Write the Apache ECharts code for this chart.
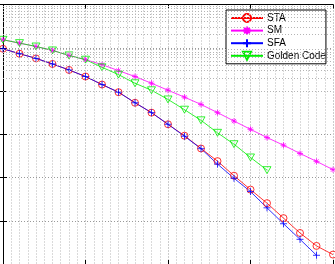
<!DOCTYPE html>
<html>
<head>
<meta charset="utf-8">
<title>BER</title>
<script src="https://cdn.jsdelivr.net/npm/echarts@6.0.0/dist/echarts.min.js"></script>
<style>
    html, body { margin: 0; padding: 0; background: #fff; }
    #berChart { width: 335px; height: 264px; }
</style>
</head>
<body>
<div id="berChart"></div>
<script>
// SNR (dB) - one marker every 2 dB
var snr = [0, 2, 4, 6, 8, 10, 12, 14, 16, 18, 20, 22, 24, 26, 28, 30, 32, 34, 36, 38, 40];

// BER values
var berSTA = [0.0948, 0.0728, 0.0568, 0.0422, 0.0307, 0.0216, 0.0141, 0.00938, 0.00535, 0.00316,
    0.00170, 0.000924, 0.000469, 0.000239, 0.000110, 5.25e-5, 2.55e-5, 1.15e-5, 5.21e-6, 2.62e-6, 1.65e-6];
var berSM = [0.153, 0.128, 0.107, 0.0867, 0.0665, 0.0530, 0.0407, 0.0296, 0.0216, 0.0151,
    0.0104, 0.00720, 0.00489, 0.00316, 0.00202, 0.00130, 0.000839, 0.000558, 0.000360, 0.000236, 0.000152];
var berSFA = [0.0948, 0.0728, 0.0568, 0.0422, 0.0307, 0.0216, 0.0141, 0.00938, 0.00535, 0.00316,
    0.00170, 0.000900, 0.000464, 0.000204, 9.6e-5, 4.72e-5, 1.99e-5, 8.53e-6, 3.72e-6, 1.59e-6, null];
var berGolden = [0.153, 0.128, 0.107, 0.0867, 0.0665, 0.0530, 0.0353, 0.0239, 0.0151, 0.0104,
    0.00638, 0.00370, 0.00210, 0.00108, 0.000589, 0.000291, 0.000148, null, null, null, null];

var seriesNames = ['STA', 'SM', 'SFA', 'Golden Code'];

window.onload = function () {
    loadBerChart();
};

/**
 * @description pair snr with a BER column
 */
function pairs(values) {
    var out = [];
    for (var i = 0; i < snr.length; i++) {
        if (values[i] != null) {
            out.push([snr[i], values[i]]);
        }
    }
    return out;
}

/**
 * @description 2..9 x 10^k lines for the log minor grid
 */
function logMinorLines() {
    var lines = [];
    for (var k = -6; k < 0; k++) {
        for (var m = 2; m <= 9; m++) {
            lines.push({yAxis: m * Math.pow(10, k)});
        }
    }
    return lines;
}

function lineSeries(name, values, color, symbol, size) {
    return {
        name: name,
        type: 'line',
        data: pairs(values),
        symbol: symbol,
        symbolSize: size,
        symbolKeepAspect: true,
        showAllSymbol: true,
        lineStyle: {color: color, width: 0.8},
        itemStyle: {color: 'rgba(0,0,0,0)', borderColor: color, borderWidth: 0.8},
        emphasis: {disabled: true},
        animation: false
    };
}

function loadBerChart() {
    var myChart = echarts.init(document.getElementById('berChart'), null, {renderer: 'canvas'});
    var gridGrey = {color: '#b4b4b4', type: [1, 2], width: 1};
    var series = [
        // carries only the log minor grid, drawn under the curves
        {
            name: 'grid',
            type: 'line',
            data: [],
            silent: true,
            z: 1,
            markLine: {
                silent: true,
                symbol: 'none',
                label: {show: false},
                lineStyle: gridGrey,
                data: logMinorLines(),
                animation: false
            }
        },
        lineSeries('STA', berSTA, '#ff0000', 'circle', 7),
        lineSeries('SM', berSM, '#ff00ff', 'path://M5,0 L5,10 M0,5 L10,5 M1.5,1.5 L8.5,8.5 M1.5,8.5 L8.5,1.5', 6),
        lineSeries('SFA', berSFA, '#0000ff', 'path://M5,0 L5,10 M0,5 L10,5', 7),
        lineSeries('Golden Code', berGolden, '#00ee00', 'path://M0,0 L10,0 L5,8.66 Z', 8)
    ];
    var option = {
        backgroundColor: '#fff',
        animation: false,
        grid: {left: 3, top: 4.5, width: 330, height: 261, show: false},
        legend: {
            data: seriesNames,
            orient: 'vertical',
            left: 226,
            top: 10,
            padding: [3, 0, 3, 4],
            itemGap: 2.6,
            itemWidth: 32,
            itemHeight: 10,
            backgroundColor: '#fff',
            borderColor: '#000',
            borderWidth: 1,
            borderRadius: 0,
            textStyle: {fontFamily: 'Liberation Sans, Arial, sans-serif', fontSize: 10, color: '#000', padding: [0, 0, 0, -1]}
        },
        xAxis: [{
            type: 'value',
            min: 0,
            max: 40,
            interval: 10,
            axisLine: {show: true, lineStyle: {color: '#000'}},
            axisTick: {show: true, inside: true, length: 4, lineStyle: {color: '#000'}},
            axisLabel: {show: false},
            splitLine: {show: true, lineStyle: {color: '#999', type: [1, 2], width: 1}},
            minorTick: {show: false, splitNumber: 10},
            minorSplitLine: {show: true, lineStyle: gridGrey}
        }, {
            type: 'value',
            position: 'top',
            min: 0,
            max: 40,
            interval: 10,
            axisLine: {show: true, lineStyle: {color: '#000'}},
            axisTick: {show: true, inside: true, length: 4, lineStyle: {color: '#000'}},
            axisLabel: {show: false},
            splitLine: {show: false}
        }],
        yAxis: [{
            type: 'log',
            logBase: 10,
            min: 1e-6,
            max: 1,
            splitNumber: 6,
            axisLine: {show: true, lineStyle: {color: '#000'}},
            axisTick: {show: true, inside: true, length: 4, lineStyle: {color: '#000'}},
            axisLabel: {show: false},
            splitLine: {show: true, lineStyle: {color: '#999', type: [1, 2], width: 1}}
        }, {
            type: 'log',
            logBase: 10,
            position: 'right',
            min: 1e-6,
            max: 1,
            splitNumber: 6,
            axisLine: {show: true, lineStyle: {color: '#000'}},
            axisTick: {show: true, inside: true, length: 4, lineStyle: {color: '#000'}},
            axisLabel: {show: false},
            splitLine: {show: false}
        }],
        series: series
    };
    if (option && typeof option === "object") {
        myChart.setOption(option, true);
    }
}
</script>
</body>
</html>
